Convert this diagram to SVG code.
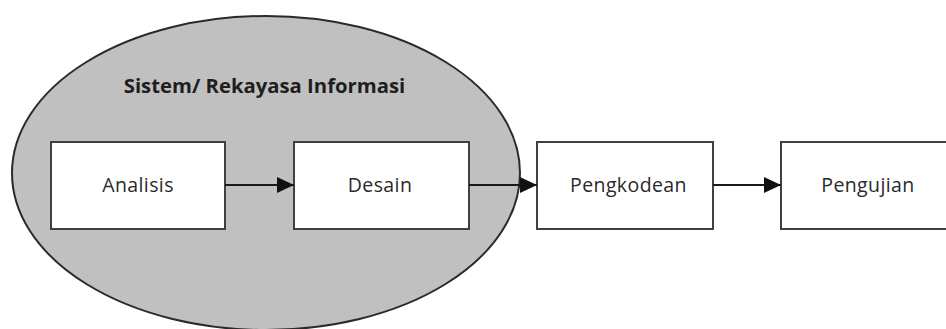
<svg xmlns="http://www.w3.org/2000/svg" width="946" height="329" viewBox="0 0 946 329">
<defs>
<style>
.box{fill:#ffffff;stroke:#404040;stroke-width:2}
.lbl{font-family:"Open Sans","Noto Sans",sans-serif;font-size:19.5px;fill:#2a2a2a;text-anchor:middle;letter-spacing:0.4px}
.title{font-family:"Open Sans","Noto Sans",sans-serif;font-size:20.3px;font-weight:bold;fill:#1e1e1e;text-anchor:middle}
.conn{stroke:#1a1a1a;stroke-width:2;fill:none}
</style>
<marker id="arr" viewBox="0 0 17 16" refX="17" refY="8" markerWidth="17" markerHeight="16" markerUnits="userSpaceOnUse" orient="auto">
<path d="M0,0 L17,8 L0,16 Z" fill="#111111"/>
</marker>
</defs>
<rect width="946" height="329" fill="#ffffff"/>
<g id="sistem">
<ellipse cx="266" cy="173" rx="254" ry="157" fill="#c0c0c0" stroke="#2a2a2a" stroke-width="2"/>
<text class="title" x="264.5" y="93">Sistem/ Rekayasa Informasi</text>
</g>
<g id="analisis">
<rect class="box" x="51" y="142" width="174" height="87"/>
<text class="lbl" x="138" y="191.5">Analisis</text>
</g>
<g id="desain">
<rect class="box" x="294" y="142" width="175" height="87"/>
<text class="lbl" x="380" y="191.5">Desain</text>
</g>
<g id="pengkodean">
<rect class="box" x="537" y="142" width="176" height="87"/>
<text class="lbl" x="628.5" y="191.5">Pengkodean</text>
</g>
<g id="pengujian">
<rect class="box" x="781" y="142" width="176" height="87"/>
<text class="lbl" x="868" y="191.5">Pengujian</text>
</g>
<g id="connectors">
<line class="conn" x1="225" y1="185" x2="294" y2="185" marker-end="url(#arr)"/>
<line class="conn" x1="469" y1="185" x2="537" y2="185" marker-end="url(#arr)"/>
<line class="conn" x1="713" y1="185" x2="781" y2="185" marker-end="url(#arr)"/>
</g>
</svg>
